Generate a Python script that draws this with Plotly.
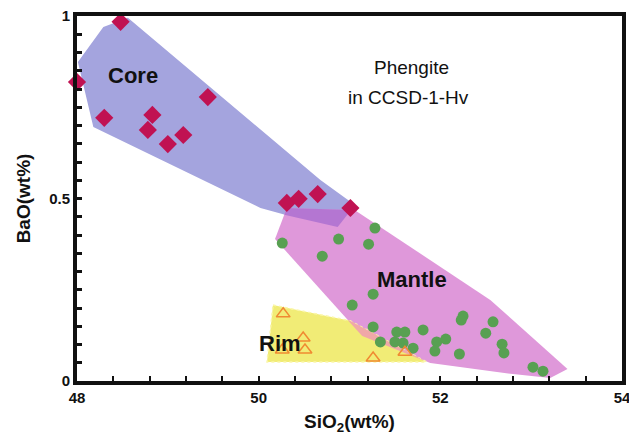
import plotly.graph_objects as go

# ---------------- data ----------------
core_sio2 = [48.0, 48.48, 48.30, 48.83, 48.78, 49.00, 49.17, 49.44, 50.31, 50.44, 50.65, 51.01]
core_bao = [0.819, 0.984, 0.721, 0.729, 0.688, 0.649, 0.674, 0.778, 0.488, 0.499, 0.512, 0.474]

mantle_sio2 = [50.26, 50.70, 50.88, 51.21, 51.28, 51.26, 51.03, 51.26, 51.34, 51.52, 51.61,
               51.50, 51.59, 51.70, 51.81, 51.96, 52.06, 51.94, 52.25, 52.23, 52.21, 52.58,
               52.50, 52.68, 52.70, 53.02, 53.13]
mantle_bao = [0.378, 0.342, 0.389, 0.375, 0.419, 0.238, 0.208, 0.148, 0.107, 0.134, 0.134,
              0.107, 0.104, 0.090, 0.140, 0.107, 0.115, 0.082, 0.178, 0.167, 0.074, 0.162,
              0.131, 0.101, 0.077, 0.038, 0.027]

rim_sio2 = [50.27, 50.49, 50.26, 50.51, 51.26, 51.61]
rim_bao = [0.184, 0.118, 0.085, 0.085, 0.063, 0.079]

# field outlines
core_field_x = [48.01, 48.29, 48.56, 50.68, 51.06, 50.87, 50.38, 50.02, 48.18]
core_field_y = [0.874, 0.970, 0.995, 0.551, 0.482, 0.422, 0.449, 0.474, 0.696]
mantle_field_x = [50.18, 50.31, 51.06, 52.55, 53.40, 53.21, 52.80, 51.89, 51.14]
mantle_field_y = [0.389, 0.474, 0.468, 0.222, 0.033, 0.008, 0.019, 0.049, 0.123]
rim_field_x = [50.158, 51.006, 51.85, 50.092]
rim_field_y = [0.208, 0.165, 0.052, 0.052]

x_tick_vals = [48, 50, 52, 54]
y_tick_vals = [0, 0.5, 1]
y_tick_text = ["0", "0.5", "1"]


def clip_polygon(subject, clipper):
    """Sutherland-Hodgman: subject polygon clipped by convex clipper."""
    n = len(clipper)
    area = sum(clipper[i][0] * clipper[(i + 1) % n][1] - clipper[(i + 1) % n][0] * clipper[i][1]
               for i in range(n))
    sgn = 1 if area > 0 else -1

    def inside(p, a, b):
        return sgn * ((b[0] - a[0]) * (p[1] - a[1]) - (b[1] - a[1]) * (p[0] - a[0])) >= 0

    def inter(p, q, a, b):
        x1, y1 = p; x2, y2 = q; x3, y3 = a; x4, y4 = b
        den = (x1 - x2) * (y3 - y4) - (y1 - y2) * (x3 - x4)
        if den == 0:
            return q
        t = ((x1 - x3) * (y3 - y4) - (y1 - y3) * (x3 - x4)) / den
        return (x1 + t * (x2 - x1), y1 + t * (y2 - y1))

    out = list(subject)
    for i in range(n):
        a, b = clipper[i], clipper[(i + 1) % n]
        inp, out = out, []
        if not inp:
            break
        for j in range(len(inp)):
            cur, prev = inp[j], inp[j - 1]
            if inside(cur, a, b):
                if not inside(prev, a, b):
                    out.append(inter(prev, cur, a, b))
                out.append(cur)
            elif inside(prev, a, b):
                out.append(inter(prev, cur, a, b))
    return out


core_pts = list(zip(core_field_x, core_field_y))
mantle_pts = list(zip(mantle_field_x, mantle_field_y))
rim_pts = list(zip(rim_field_x, rim_field_y))
core_mantle = clip_polygon(core_pts, mantle_pts)
rim_mantle = clip_polygon(rim_pts, mantle_pts)

fig = go.Figure()


def field(xs, ys, color, line=None):
    fig.add_trace(go.Scatter(
        x=list(xs) + [xs[0]], y=list(ys) + [ys[0]], mode="lines", fill="toself",
        fillcolor=color, line=line or dict(width=0, color=color),
        hoverinfo="skip", showlegend=False))


field(core_field_x, core_field_y, "rgb(164,164,222)")
field(mantle_field_x, mantle_field_y, "rgb(223,152,218)")
if core_mantle:
    field([p[0] for p in core_mantle], [p[1] for p in core_mantle], "rgb(180,118,210)")
field(rim_field_x, rim_field_y, "rgb(241,236,118)",
      line=dict(width=1.5, color="rgb(250,246,170)", dash="dot"))
if rim_mantle:
    field([p[0] for p in rim_mantle], [p[1] for p in rim_mantle], "rgb(240,168,168)")

fig.add_trace(go.Scatter(
    x=mantle_sio2, y=mantle_bao, mode="markers", cliponaxis=False,
    marker=dict(symbol="circle", size=11, color="rgb(88,160,82)", line=dict(width=0)),
    showlegend=False))
fig.add_trace(go.Scatter(
    x=rim_sio2, y=rim_bao, mode="markers", cliponaxis=False,
    marker=dict(symbol="triangle-up-open", size=12, color="rgb(240,138,50)",
                line=dict(width=1.5)),
    showlegend=False))
fig.add_trace(go.Scatter(
    x=core_sio2, y=core_bao, mode="markers", cliponaxis=False,
    marker=dict(symbol="diamond", size=14, color="rgb(192,18,82)", line=dict(width=0)),
    showlegend=False))

lab = dict(family="Liberation Sans, Arial, sans-serif", color="#111")
fig.add_annotation(x=48.62, y=0.836, text="<b>Core</b>", showarrow=False, font=dict(size=22, **lab))
fig.add_annotation(x=51.69, y=0.277, text="<b>Mantle</b>", showarrow=False, font=dict(size=22, **lab))
fig.add_annotation(x=50.235, y=0.104, text="<b>Rim</b>", showarrow=False, font=dict(size=22, **lab))
fig.add_annotation(x=51.68, y=0.86, text="Phengite", showarrow=False, font=dict(size=19, **lab))
fig.add_annotation(x=51.65, y=0.778, text="in CCSD-1-Hv", showarrow=False, font=dict(size=19, **lab))

tick_font = dict(family="Liberation Sans, Arial, sans-serif", size=15, color="#111")
fig.update_xaxes(
    range=[48, 54], showgrid=False, zeroline=False, automargin=False,
    ticklabeloverflow="allow",
    showline=True, linewidth=4, linecolor="#111", mirror=True,
    tickmode="array", tickvals=x_tick_vals, ticktext=[f"<b>{v}</b>" for v in x_tick_vals],
    ticks="inside", ticklen=5, tickwidth=2, tickcolor="#111", tickfont=tick_font,
    minor=dict(ticks="inside", ticklen=5, tickwidth=2, tickcolor="#111", dtick=0.4, tick0=48),
    title=dict(text="<b>SiO<sub>2</sub>(wt%)</b>", font=dict(size=19, **lab), standoff=11),
)
fig.update_yaxes(
    range=[0, 1], showgrid=False, zeroline=False, automargin=False,
    ticklabeloverflow="allow",
    showline=True, linewidth=4, linecolor="#111", mirror=True,
    tickmode="array", tickvals=y_tick_vals, ticktext=[f"<b>{t}</b>" for t in y_tick_text],
    ticks="inside", ticklen=5, tickwidth=3, tickcolor="#111", tickfont=tick_font,
    minor=dict(ticks="inside", ticklen=5, tickwidth=3, tickcolor="#111", dtick=0.05, tick0=0),
    title=dict(text="<b>BaO(wt%)</b>", font=dict(size=19, **lab), standoff=14),
)
fig.update_layout(
    width=629, height=435,
    margin=dict(l=77, r=7, t=16, b=54),
    plot_bgcolor="white", paper_bgcolor="white",
)
fig.write_html("out.html")
